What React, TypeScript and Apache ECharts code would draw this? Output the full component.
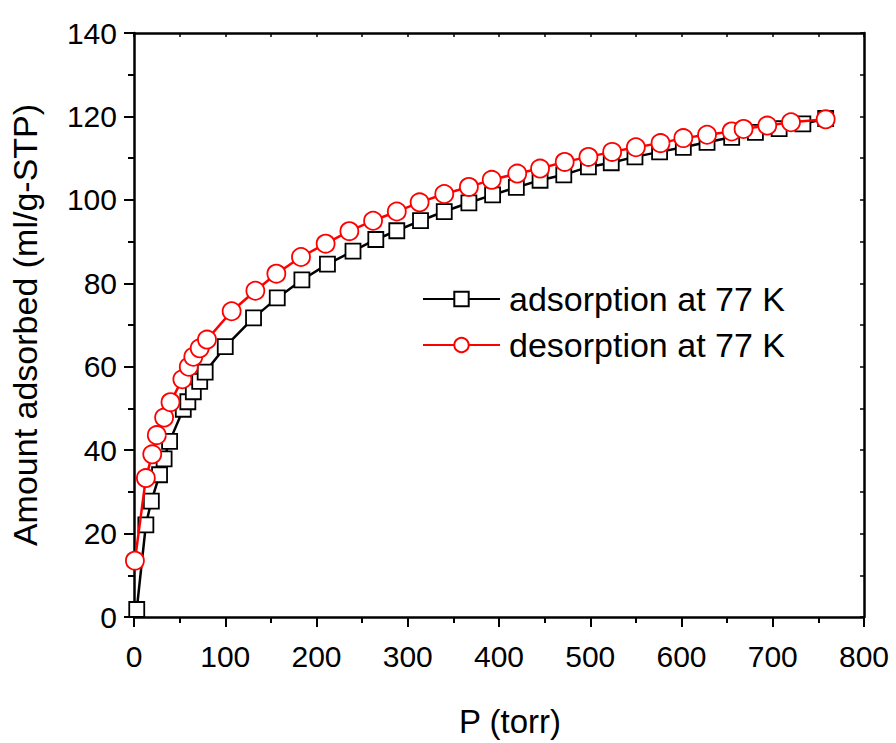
import React, { useEffect, useRef } from "react";
import * as echarts from "echarts";

const adsX = [3, 13, 19, 28, 33, 39, 54, 59, 65, 72, 78, 100, 131, 157, 184, 212, 240, 265, 288, 314, 340, 367, 393, 419, 445, 471, 498, 523, 549, 576, 602, 628, 655, 681, 707, 733, 758];
const adsY = [1.8, 22.1, 27.8, 34.1, 37.9, 42.1, 49.8, 51.6, 54.0, 56.5, 58.7, 64.8, 71.7, 76.5, 80.8, 84.6, 87.7, 90.5, 92.6, 95.0, 97.2, 99.3, 101.2, 103.0, 104.7, 106.0, 107.9, 108.9, 110.3, 111.5, 112.6, 113.8, 115.0, 116.2, 117.1, 118.2, 119.5];
const desX = [1, 13, 20, 25, 33, 40, 53, 60, 65, 72, 80, 107, 133, 156, 183, 210, 236, 262, 288, 313, 340, 367, 392, 420, 445, 472, 498, 524, 550, 577, 602, 628, 655, 668, 694, 720, 758];
const desY = [13.5, 33.3, 39.0, 43.6, 47.8, 51.5, 57.0, 60.0, 62.4, 64.4, 66.5, 73.3, 78.2, 82.3, 86.3, 89.5, 92.5, 95.0, 97.2, 99.4, 101.4, 103.1, 104.8, 106.3, 107.5, 109.1, 110.3, 111.5, 112.6, 113.6, 114.8, 115.6, 116.4, 117.0, 117.8, 118.6, 119.3];
const seriesNames = ["adsorption at 77 K", "desorption at 77 K"];
const xName = "P (torr)";
const yName = "Amount adsorbed (ml/g-STP)";

const font = "'Liberation Sans', Arial, sans-serif";

export default function App() {
  const ref = useRef<HTMLDivElement>(null);
  useEffect(() => {
    const chart = echarts.init(ref.current!, null, { renderer: "svg" });
    const axisLine = { show: true, onZero: false, lineStyle: { color: "#000", width: 2.5 } };
    const tickLabel = { fontFamily: font, fontSize: 30, color: "#000" };
    chart.setOption({
      animation: false,
      backgroundColor: "#fff",
      grid: { left: 130, right: 32, top: 33, bottom: 120, containLabel: false },
      legend: {
        orient: "vertical",
        left: 417,
        top: 277,
        itemWidth: 77,
        itemHeight: 18,
        itemGap: 12,
        textStyle: { fontFamily: font, fontSize: 34, color: "#000", padding: [0, 0, 0, 4] },
        data: seriesNames,
      },
      xAxis: [
        {
          type: "value", min: 0, max: 800, interval: 100,
          name: xName, nameLocation: "middle", nameGap: 88,
          nameTextStyle: { fontFamily: font, fontSize: 33, color: "#000", padding: [0, 0, 0, 22] },
          axisLine,
          axisTick: { show: true, length: 10, inside: false, lineStyle: { color: "#000", width: 2 } },
          minorTick: { show: true, splitNumber: 2, length: 6, lineStyle: { color: "#000", width: 2 } },
          axisLabel: { ...tickLabel, margin: 24 },
          splitLine: { show: false },
        },
        {
          type: "value", min: 0, max: 800, interval: 100, position: "top",
          axisLine,
          axisTick: { show: true, length: 4, inside: true, lineStyle: { color: "#000", width: 1.5 } },
          minorTick: { show: true, splitNumber: 2, length: 4, lineStyle: { color: "#000", width: 1.5 } },
          axisLabel: { show: false },
          splitLine: { show: false },
        },
      ],
      yAxis: [
        {
          type: "value", min: 0, max: 140, interval: 20,
          name: yName, nameLocation: "middle", nameGap: 92,
          nameTextStyle: { fontFamily: font, fontSize: 34, color: "#000" },
          axisLine,
          axisTick: { show: true, length: 10, inside: false, lineStyle: { color: "#000", width: 2 } },
          minorTick: { show: true, splitNumber: 2, length: 6, lineStyle: { color: "#000", width: 2 } },
          axisLabel: { ...tickLabel, margin: 17 },
          splitLine: { show: false },
        },
        {
          type: "value", min: 0, max: 140, interval: 20, position: "right",
          axisLine,
          axisTick: { show: true, length: 4, inside: true, lineStyle: { color: "#000", width: 1.5 } },
          minorTick: { show: true, splitNumber: 2, length: 4, lineStyle: { color: "#000", width: 1.5 } },
          axisLabel: { show: false },
          splitLine: { show: false },
        },
      ],
      series: [
        {
          name: seriesNames[0],
          type: "line",
          data: adsX.map((x, i) => [x, adsY[i]]),
          symbol: "rect",
          symbolSize: 15,
          showAllSymbol: true,
          lineStyle: { color: "#000", width: 2.5 },
          itemStyle: { color: "#fff", borderColor: "#000", borderWidth: 1.8 },
          z: 2,
        },
        {
          name: seriesNames[1],
          type: "line",
          data: desX.map((x, i) => [x, desY[i]]),
          symbol: "circle",
          symbolSize: 18,
          showAllSymbol: true,
          lineStyle: { color: "#ff0000", width: 2.5 },
          itemStyle: { color: "#fff", borderColor: "#ff0000", borderWidth: 1.8 },
          z: 3,
        },
      ],
    });
    return () => chart.dispose();
  }, []);
  return <div ref={ref} style={{ width: 896, height: 743, position: "absolute", left: 0, top: 0 }} />;
}
